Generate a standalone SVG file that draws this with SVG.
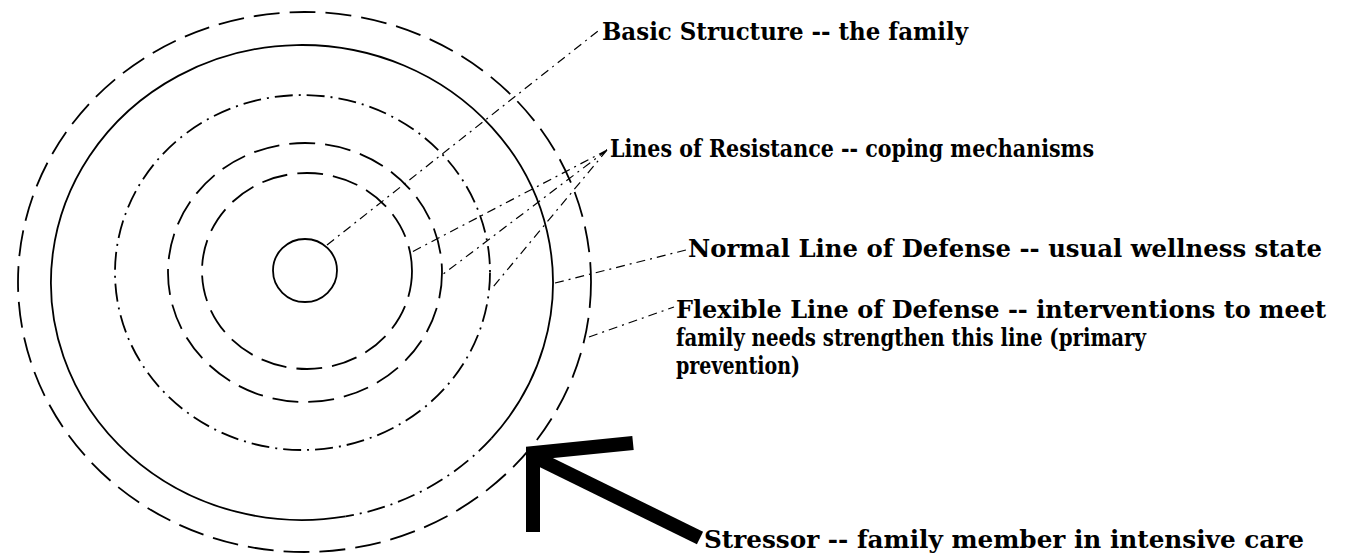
<svg xmlns="http://www.w3.org/2000/svg" width="1351" height="560" viewBox="0 0 1351 560">
<style>
.ring{fill:none;stroke:#000;stroke-width:1.8}
.dash{stroke-dasharray:26 10}
.dashdot{stroke-dasharray:18 6 2 6}
.conn{fill:none;stroke:#000;stroke-width:1.2;stroke-dasharray:9 5 2 5}
.lbl{font-family:"DejaVu Serif","Liberation Serif",serif;font-weight:bold;font-size:24px;fill:#000}
.arrow{fill:none;stroke:#000;stroke-width:14;stroke-linejoin:miter;stroke-linecap:butt}
</style>
<rect width="1351" height="560" fill="#fff"/>
<g id="flexible-line">
<ellipse class="ring dash" cx="304.5" cy="282" rx="286.5" ry="270"/>
</g>
<g id="normal-line">
<path class="ring" d="M345.6,516.4 A251,237.5 0 1 1 491.4,438.3"/>
<path class="ring dashdot" d="M491.4,438.3 A251,237.5 0 0 1 345.6,516.4"/>
</g>
<g id="resistance-lines">
<ellipse class="ring dashdot" cx="302.5" cy="272.5" rx="187.5" ry="177.5"/>
<ellipse class="ring dash" cx="305" cy="272.5" rx="137" ry="129.5"/>
<ellipse class="ring dash" cx="307" cy="271" rx="105" ry="98"/>
</g>
<g id="basic-structure">
<ellipse class="ring" cx="305" cy="270.5" rx="32" ry="31.5"/>
</g>
<g id="connectors">
<path class="conn" d="M327,245 L598,31"/>
<path class="conn" d="M607,150 L410,253 M607,150 L442,275 M607,150 L493,287"/>
<path class="conn" d="M555,283 L686,250"/>
<path class="conn" d="M589,337 L674,307"/>
</g>
<g id="stressor-arrow">
<polyline class="arrow" points="633,443 533,453 533,532"/>
<line class="arrow" x1="539" y1="459" x2="700" y2="538"/>
</g>
<g id="labels">
<text class="lbl" x="602" y="40" textLength="366" lengthAdjust="spacingAndGlyphs">Basic Structure -- the family</text>
<text class="lbl" x="610" y="157" textLength="484" lengthAdjust="spacingAndGlyphs">Lines of Resistance -- coping mechanisms</text>
<text class="lbl" x="688" y="257" textLength="634" lengthAdjust="spacingAndGlyphs">Normal Line of Defense -- usual wellness state</text>
<text class="lbl" x="676" y="318" textLength="650" lengthAdjust="spacingAndGlyphs">Flexible Line of Defense -- interventions to meet</text>
<text class="lbl" x="676" y="346" textLength="470" lengthAdjust="spacingAndGlyphs">family needs strengthen this line (primary</text>
<text class="lbl" x="676" y="374" textLength="124" lengthAdjust="spacingAndGlyphs">prevention)</text>
<text class="lbl" x="704" y="548" textLength="600" lengthAdjust="spacingAndGlyphs">Stressor -- family member in intensive care</text>
</g>
</svg>
